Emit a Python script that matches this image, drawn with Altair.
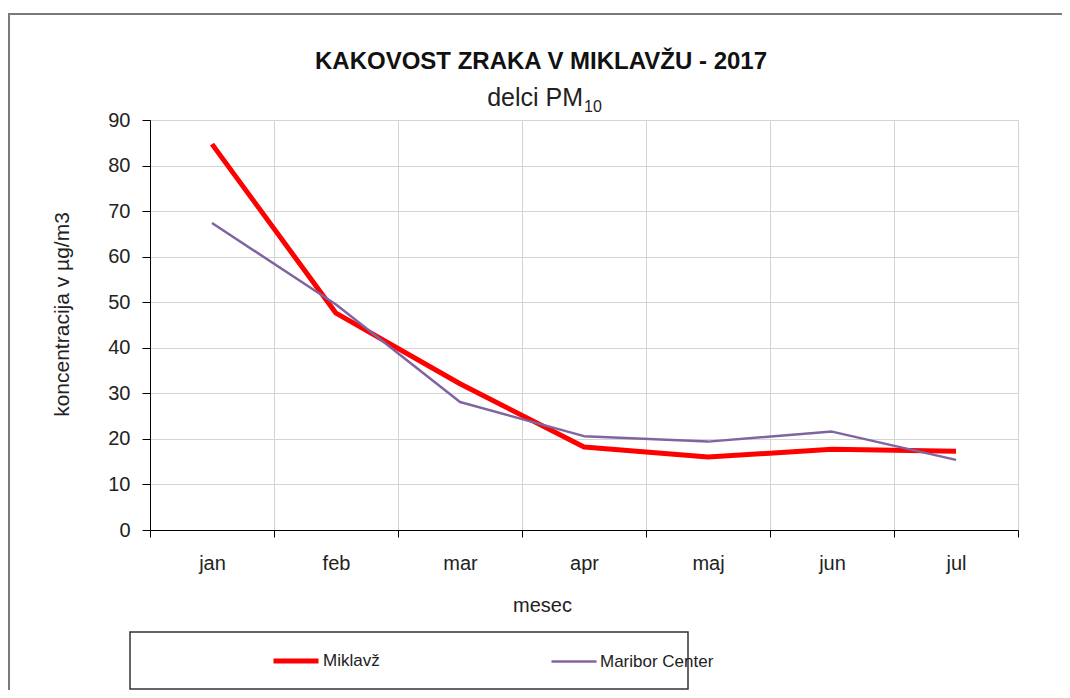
import altair as alt
import pandas as pd

months = ["jan", "feb", "mar", "apr", "maj", "jun", "jul"]
miklavz = [84.7, 47.6, 32.1, 18.2, 16.0, 17.7, 17.3]
maribor = [67.4, 49.5, 28.1, 20.6, 19.4, 21.6, 15.4]
series_names = ["Miklavž", "Maribor Center"]
series_colors = ["#ff0000", "#8064a2"]
series_widths = [5, 2.5]
y_ticks = [0, 10, 20, 30, 40, 50, 60, 70, 80, 90]
title_text = "KAKOVOST ZRAKA V MIKLAVŽU - 2017"
subtitle_text = "delci PM"
subtitle_sub = "10"

rows = []
for m, a, b in zip(months, miklavz, maribor):
    rows.append({"mesec": m, "serija": series_names[0], "vrednost": a})
    rows.append({"mesec": m, "serija": series_names[1], "vrednost": b})
df = pd.DataFrame(rows)

FONT = "Liberation Sans, Arial"
W, H = 868, 410
PAD = {"left": 142, "top": 112, "right": 44, "bottom": 160}
one = pd.DataFrame({"k": [0]})

frame_top = alt.Chart(one).mark_rule(
    stroke="#7a7a7a", strokeWidth=2, clip=False
).encode(x=alt.value(-142), x2=alt.value(W + PAD["right"]), y=alt.value(-106))

frame_left = alt.Chart(one).mark_rule(
    stroke="#7a7a7a", strokeWidth=2, clip=False
).encode(x=alt.value(-141), y=alt.value(-107), y2=alt.value(H + PAD["bottom"]))

legend_box = alt.Chart(one).mark_rect(
    fill=None, stroke="#333333", strokeWidth=1.5, clip=False
).encode(
    x=alt.value(-20), x2=alt.value(538), y=alt.value(512), y2=alt.value(569)
)

title_mark = alt.Chart(pd.DataFrame({"t": [title_text]})).mark_text(
    font=FONT, fontSize=24, fontWeight="bold", color="#111111",
    align="center", baseline="alphabetic", clip=False
).encode(text="t:N", x=alt.value(391), y=alt.value(-51))

sub_mark = alt.Chart(pd.DataFrame({"t": [subtitle_text]})).mark_text(
    font=FONT, fontSize=25, color="#222222",
    align="right", baseline="alphabetic", clip=False
).encode(text="t:N", x=alt.value(433), y=alt.value(-14))

subsub_mark = alt.Chart(pd.DataFrame({"t": [subtitle_sub]})).mark_text(
    font=FONT, fontSize=16, color="#222222",
    align="left", baseline="alphabetic", clip=False
).encode(text="t:N", x=alt.value(434), y=alt.value(-8))

leg = alt.Legend(
    title=None,
    orient="none",
    direction="horizontal",
    legendX=121,
    legendY=516,
    symbolType="stroke",
    symbolSize=2025,
    labelFont=FONT,
    labelFontSize=17,
    labelColor="#222222",
    labelOffset=2,
    columnPadding=166,
    padding=0,
)

base = alt.Chart(df).mark_line(strokeCap="butt", strokeJoin="round").encode(
    x=alt.X(
        "mesec:N",
        sort=months,
        scale=alt.Scale(paddingInner=0, paddingOuter=0),
        axis=alt.Axis(
            title="mesec",
            labelAngle=0,
            tickBand="extent",
            grid=True,
            gridColor="#d4d4d4",
            gridWidth=1,
            domainColor="#000000",
            tickColor="#000000",
            tickSize=7,
            labelPadding=16,
            labelFontSize=20,
            labelColor="#222222",
            labelFont=FONT,
            titleFont=FONT,
            titleFontSize=20,
            titleFontWeight="normal",
            titleColor="#222222",
            titleX=392,
            titleY=75,
            titleBaseline="middle",
        ),
    ),
    y=alt.Y(
        "vrednost:Q",
        scale=alt.Scale(domain=[0, 90], nice=False),
        axis=alt.Axis(
            title="koncentracija v µg/m3",
            values=y_ticks,
            grid=True,
            gridColor="#d4d4d4",
            gridWidth=1,
            domainColor="#000000",
            tickColor="#000000",
            tickSize=8,
            labelPadding=12,
            labelFontSize=20,
            labelColor="#222222",
            labelFont=FONT,
            titleFont=FONT,
            titleFontSize=21,
            titleFontWeight="normal",
            titleColor="#222222",
            titleX=-88,
            titleY=194,
            titleBaseline="middle",
        ),
    ),
    color=alt.Color(
        "serija:N",
        scale=alt.Scale(domain=series_names, range=series_colors),
        legend=leg,
    ),
    strokeWidth=alt.StrokeWidth(
        "serija:N",
        scale=alt.Scale(domain=series_names, range=series_widths),
        legend=leg,
    ),
)

red_line = base.transform_filter(alt.datum.serija == series_names[0])
purple_line = base.transform_filter(alt.datum.serija == series_names[1])

chart = alt.layer(
    frame_top, frame_left, red_line, purple_line, legend_box,
    title_mark, sub_mark, subsub_mark
).properties(
    width=W,
    height=H,
    autosize=alt.AutoSizeParams(type="none"),
    padding=PAD,
).configure_view(stroke=None).configure(background="white")

chart.save("out.html", embed_options={"renderer": "svg", "actions": False})
